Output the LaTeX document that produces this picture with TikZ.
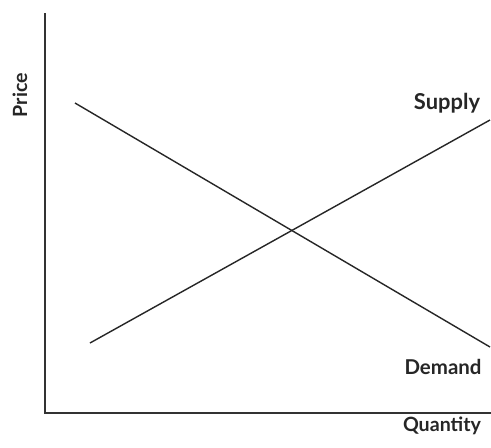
\documentclass[tikz,border=0pt]{standalone}
\usepackage{fontspec}
\setmainfont{Lato}
\begin{document}
\begin{tikzpicture}[x=1pt,y=-1pt,
  axisline/.style={line width=2pt,draw=black!80},
  curve/.style={line width=1.4pt,draw=black!85},
  lbl/.style={font=\fontsize{13}{15}\selectfont\bfseries,text=black!85,inner sep=0pt}]
\useasboundingbox[fill=white] (0,0) rectangle (491,448);
\coordinate (ytop) at (45,13);
\coordinate (orig) at (45,413);
\coordinate (xend) at (491,413);
\draw[axisline] (ytop) -- (orig) -- (xend);
\coordinate (s1) at (90,343);
\coordinate (s2) at (490,120);
\coordinate (d1) at (75,103);
\coordinate (d2) at (490,347);
\draw[curve] (s1) -- (s2);
\draw[curve] (d1) -- (d2);
\node[lbl] (supply) at (447,103) {\resizebox{66pt}{!}{Supply}};
\node[lbl] (demand) at (443,367) {\resizebox{77pt}{!}{Demand}};
\node[lbl] (quantity) at (442,426) {\resizebox{78pt}{!}{Quantity}};
\node[lbl,rotate=90] (price) at (20,95) {\resizebox{44pt}{!}{Price}};
\end{tikzpicture}
\end{document}
